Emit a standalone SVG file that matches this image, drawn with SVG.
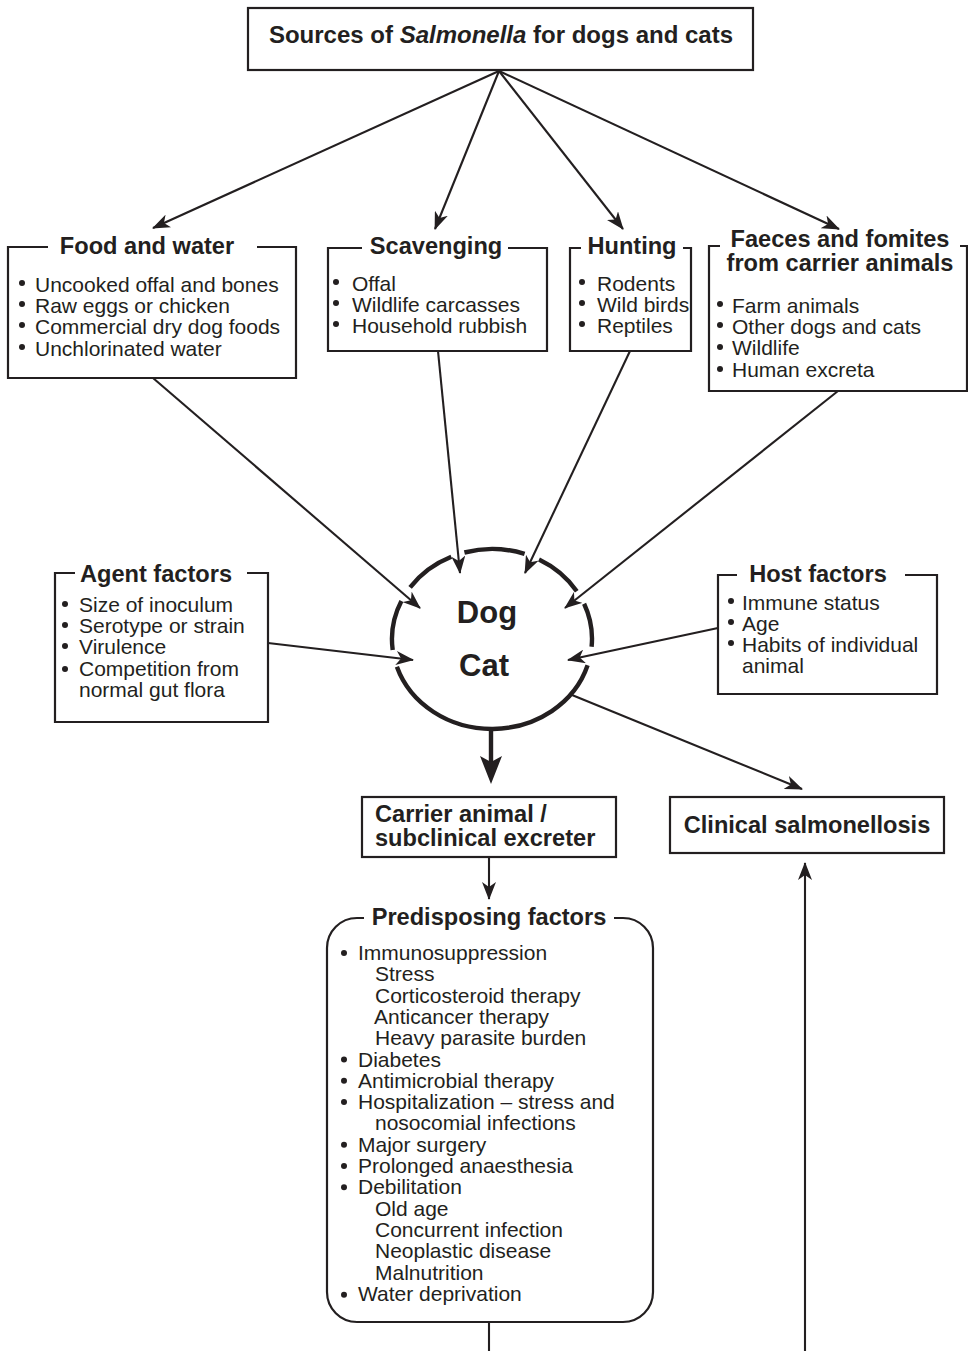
<svg xmlns="http://www.w3.org/2000/svg" width="968" height="1351" viewBox="0 0 968 1351">
<style>
.t{font-family:"Liberation Sans",Arial,sans-serif;font-weight:bold;font-size:23.6px;fill:#231f20}
.big{font-size:31px}
.top{font-size:24px}
.b{font-family:"Liberation Sans",Arial,sans-serif;font-size:21px;fill:#231f20}
.box{fill:none;stroke:#231f20;stroke-width:2.2}
.ln{fill:none;stroke:#231f20;stroke-width:2.1}
.dot{fill:#231f20}
.ring{fill:none;stroke:#231f20;stroke-width:4.4}
</style>
<defs>
<marker id="ah" markerUnits="userSpaceOnUse" viewBox="0 0 18 14" markerWidth="18" markerHeight="14" refX="17" refY="7" orient="auto">
<path d="M0,0 L18,7 L0,14 L5,7 z" fill="#231f20"/>
</marker>
<marker id="ahb" markerUnits="userSpaceOnUse" viewBox="0 0 28 22" markerWidth="28" markerHeight="22" refX="6" refY="11" orient="auto">
<path d="M0,0 L28,11 L0,22 L6,11 z" fill="#231f20"/>
</marker>
</defs>
<rect width="968" height="1351" fill="#fff"/>

<g id="connectors">
<line class="ln" x1="499" y1="71" x2="153" y2="228" marker-end="url(#ah)"/>
<line class="ln" x1="499" y1="71" x2="435" y2="229" marker-end="url(#ah)"/>
<line class="ln" x1="499" y1="71" x2="623" y2="229" marker-end="url(#ah)"/>
<line class="ln" x1="499" y1="71" x2="839" y2="229" marker-end="url(#ah)"/>
<line class="ln" x1="153" y1="378" x2="420" y2="608" marker-end="url(#ah)"/>
<line class="ln" x1="438" y1="351" x2="460" y2="573" marker-end="url(#ah)"/>
<line class="ln" x1="630" y1="351" x2="525" y2="573" marker-end="url(#ah)"/>
<line class="ln" x1="838" y1="391" x2="565" y2="608" marker-end="url(#ah)"/>
<line class="ln" x1="268" y1="643" x2="413" y2="660" marker-end="url(#ah)"/>
<line class="ln" x1="718" y1="628" x2="568" y2="660" marker-end="url(#ah)"/>
<line x1="491" y1="729" x2="491" y2="762" stroke="#231f20" stroke-width="4.4" marker-end="url(#ahb)"/>
<line class="ln" x1="572" y1="695" x2="802" y2="789" marker-end="url(#ah)"/>
<line class="ln" x1="489" y1="857" x2="489" y2="899" marker-end="url(#ah)"/>
<line class="ln" x1="489" y1="1322" x2="489" y2="1351"/>
<line class="ln" x1="805" y1="1351" x2="805" y2="863" marker-end="url(#ah)"/>
</g>

<g id="sources">
<rect class="box" x="248" y="8" width="505" height="62"/>
<text class="t top" x="501" y="43" text-anchor="middle">Sources of <tspan font-style="italic">Salmonella</tspan> for dogs and cats</text>
</g>

<g id="food">
<path class="box" d="M48,247 H8 V378 H296 V247 H257"/>
<text class="t" x="147" y="254" text-anchor="middle">Food and water</text>
<circle class="dot" cx="22" cy="283" r="3"/><text class="b" x="35" y="292">Uncooked offal and bones</text>
<circle class="dot" cx="22" cy="304" r="3"/><text class="b" x="35" y="313">Raw eggs or chicken</text>
<circle class="dot" cx="22" cy="325" r="3"/><text class="b" x="35" y="334">Commercial dry dog foods</text>
<circle class="dot" cx="22" cy="347" r="3"/><text class="b" x="35" y="356">Unchlorinated water</text>
</g>

<g id="scavenging">
<path class="box" d="M362,248 H328 V351 H547 V248 H508"/>
<text class="t" x="436" y="254" text-anchor="middle">Scavenging</text>
<circle class="dot" cx="336" cy="282" r="3"/><text class="b" x="352" y="291">Offal</text>
<circle class="dot" cx="336" cy="303" r="3"/><text class="b" x="352" y="312">Wildlife carcasses</text>
<circle class="dot" cx="336" cy="324" r="3"/><text class="b" x="352" y="333">Household rubbish</text>
</g>

<g id="hunting">
<path class="box" d="M581,248 H570 V351 H691 V248 H683"/>
<text class="t" x="632" y="254" text-anchor="middle">Hunting</text>
<circle class="dot" cx="582" cy="282" r="3"/><text class="b" x="597" y="291">Rodents</text>
<circle class="dot" cx="582" cy="303" r="3"/><text class="b" x="597" y="312">Wild birds</text>
<circle class="dot" cx="582" cy="324" r="3"/><text class="b" x="597" y="333">Reptiles</text>
</g>

<g id="faeces">
<path class="box" d="M720,246 H709 V391 H967 V246 H960"/>
<text class="t" x="840" y="247" text-anchor="middle">Faeces and fomites</text>
<text class="t" x="840" y="271" text-anchor="middle">from carrier animals</text>
<circle class="dot" cx="720" cy="304" r="3"/><text class="b" x="732" y="313">Farm animals</text>
<circle class="dot" cx="720" cy="325" r="3"/><text class="b" x="732" y="334">Other dogs and cats</text>
<circle class="dot" cx="720" cy="347" r="3"/><text class="b" x="732" y="355">Wildlife</text>
<circle class="dot" cx="720" cy="369" r="3"/><text class="b" x="732" y="377">Human excreta</text>
</g>

<g id="dogcat">
<path class="ring" d="M584.1,603.8 A100,90 0 0 1 591.6,646.8 M587.6,665.3 A100,90 0 0 1 396.9,666.8 M392.7,650.0 A100,90 0 0 1 401.4,601.0 M410.1,587.4 A100,90 0 0 1 451.3,556.8 M464.4,552.5 A100,90 0 0 1 524.6,553.9 M539.0,559.5 A100,90 0 0 1 576.8,591.3"/>
<text class="t big" x="487" y="623" text-anchor="middle">Dog</text>
<text class="t big" x="484" y="676" text-anchor="middle">Cat</text>
</g>

<g id="agent">
<path class="box" d="M75,573 H55 V722 H268 V573 H247"/>
<text class="t" x="156" y="582" text-anchor="middle">Agent factors</text>
<circle class="dot" cx="65" cy="604" r="3"/><text class="b" x="79" y="612">Size of inoculum</text>
<circle class="dot" cx="65" cy="625" r="3"/><text class="b" x="79" y="633">Serotype or strain</text>
<circle class="dot" cx="65" cy="646" r="3"/><text class="b" x="79" y="654">Virulence</text>
<circle class="dot" cx="65" cy="669" r="3"/><text class="b" x="79" y="676">Competition from</text>
<text class="b" x="79" y="697">normal gut flora</text>
</g>

<g id="host">
<path class="box" d="M737,575 H718 V694 H937 V575 H905"/>
<text class="t" x="818" y="582" text-anchor="middle">Host factors</text>
<circle class="dot" cx="731" cy="601" r="3"/><text class="b" x="742" y="610">Immune status</text>
<circle class="dot" cx="731" cy="622" r="3"/><text class="b" x="742" y="631">Age</text>
<circle class="dot" cx="731" cy="643" r="3"/><text class="b" x="742" y="652">Habits of individual</text>
<text class="b" x="742" y="673">animal</text>
</g>

<g id="carrier">
<rect class="box" x="362" y="797" width="254" height="60"/>
<text class="t" x="375" y="822">Carrier animal /</text>
<text class="t" x="375" y="846">subclinical excreter</text>
</g>

<g id="clinical">
<rect class="box" x="670" y="797" width="274" height="56"/>
<text class="t" x="807" y="833" text-anchor="middle">Clinical salmonellosis</text>
</g>

<g id="predisposing">
<path class="box" d="M364,918 H357 A30,30 0 0 0 327,948 V1292 A30,30 0 0 0 357,1322 H623 A30,30 0 0 0 653,1292 V948 A30,30 0 0 0 623,918 H614"/>
<text class="t" x="489" y="925" text-anchor="middle">Predisposing factors</text>
<circle class="dot" cx="344" cy="953" r="3"/><text class="b" x="358" y="960">Immunosuppression</text>
<text class="b" x="375" y="981.3">Stress</text>
<text class="b" x="375" y="1002.6">Corticosteroid therapy</text>
<text class="b" x="374" y="1023.9">Anticancer therapy</text>
<text class="b" x="375" y="1045.2">Heavy parasite burden</text>
<circle class="dot" cx="344" cy="1059.5" r="3"/><text class="b" x="358" y="1066.5">Diabetes</text>
<circle class="dot" cx="344" cy="1080.8" r="3"/><text class="b" x="358" y="1087.8">Antimicrobial therapy</text>
<circle class="dot" cx="344" cy="1102.1" r="3"/><text class="b" x="358" y="1109.1">Hospitalization – stress and</text>
<text class="b" x="375" y="1130.4">nosocomial infections</text>
<circle class="dot" cx="344" cy="1144.7" r="3"/><text class="b" x="358" y="1151.7">Major surgery</text>
<circle class="dot" cx="344" cy="1166" r="3"/><text class="b" x="358" y="1173">Prolonged anaesthesia</text>
<circle class="dot" cx="344" cy="1187.3" r="3"/><text class="b" x="358" y="1194.3">Debilitation</text>
<text class="b" x="375" y="1215.6">Old age</text>
<text class="b" x="375" y="1236.9">Concurrent infection</text>
<text class="b" x="375" y="1258.2">Neoplastic disease</text>
<text class="b" x="375" y="1279.5">Malnutrition</text>
<circle class="dot" cx="344" cy="1294.8" r="3"/><text class="b" x="358" y="1300.8">Water deprivation</text>
</g>
</svg>
